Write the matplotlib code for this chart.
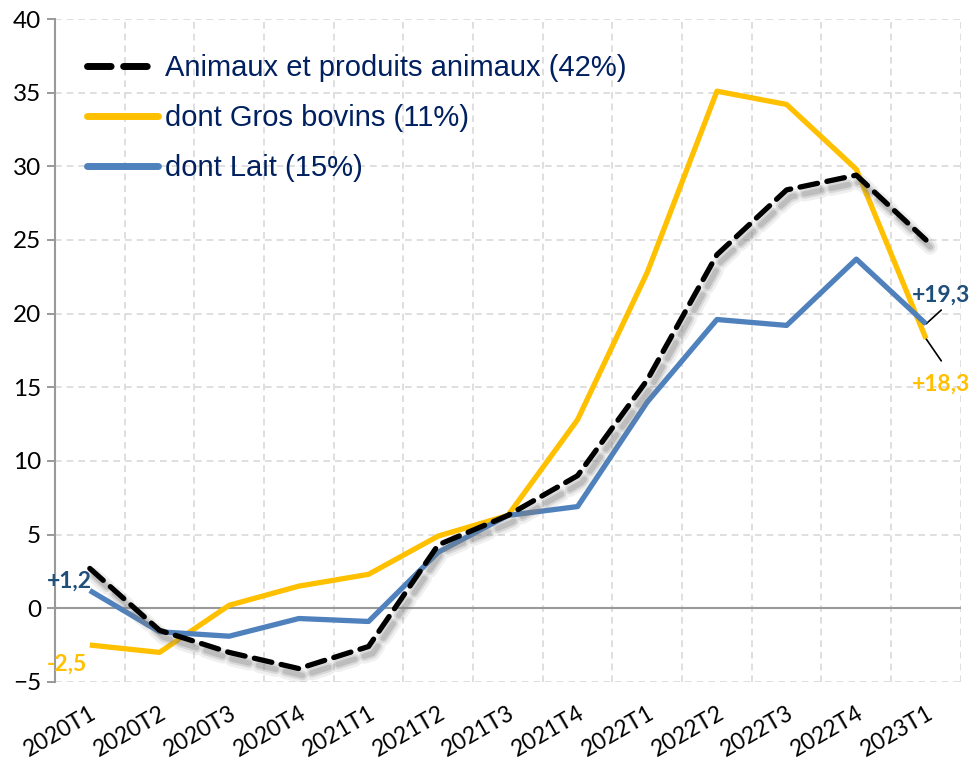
import matplotlib

matplotlib.use("Agg")
import matplotlib.pyplot as plt
import matplotlib.patheffects as pe
import numpy as np

quarters = ["2020T1", "2020T2", "2020T3", "2020T4", "2021T1", "2021T2", "2021T3",
            "2021T4", "2022T1", "2022T2", "2022T3", "2022T4", "2023T1"]
animaux = [2.7, -1.5, -3.0, -4.1, -2.6, 4.3, 6.3, 9.0, 15.5, 24.0, 28.4, 29.4, 25.0]
gros_bovins = [-2.5, -3.0, 0.2, 1.5, 2.3, 4.9, 6.3, 12.8, 22.8, 35.1, 34.2, 29.8, 18.3]
lait = [1.2, -1.6, -1.9, -0.7, -0.9, 3.8, 6.3, 6.9, 14.0, 19.6, 19.2, 23.7, 19.3]

labels = ["Animaux et produits animaux (42%)", "dont Gros bovins (11%)", "dont Lait (15%)"]

YELLOW = "#FFC000"
BLUE = "#4F81BD"
LBL_BLUE = "#1F4E79"
NAVY = "#002060"

fig = plt.figure(figsize=(9.73, 7.61), dpi=100)
ax = fig.add_axes([0.0565, 0.104, 0.931, 0.871])

x = np.arange(len(quarters))

# soft grey shadow under the dashed series
shadow = [
    pe.SimpleLineShadow(offset=(3, -5), shadow_color="gray", alpha=0.12, linewidth=11),
    pe.SimpleLineShadow(offset=(3, -5), shadow_color="gray", alpha=0.2, linewidth=7),
    pe.SimpleLineShadow(offset=(3, -5), shadow_color="gray", alpha=0.3, linewidth=4),
    pe.Normal(),
]
ax.plot(x, animaux, color="black", lw=3.8, ls=(0, (3.4, 1.8)), dash_capstyle="round",
        label=labels[0], path_effects=shadow, zorder=5)
ax.plot(x, gros_bovins, color=YELLOW, lw=3.8, label=labels[1], zorder=4,
        solid_capstyle="butt")
ax.plot(x, lait, color=BLUE, lw=3.8, label=labels[2], zorder=4,
        solid_capstyle="butt")

ax.set_xlim(-0.5, len(quarters) - 0.5)
ax.set_ylim(-5, 40)
ax.set_yticks(np.arange(-5, 41, 5))
ax.set_xticks(x)
ax.set_xticklabels(quarters, rotation=30, ha="right", rotation_mode="anchor",
                   fontsize=16.5, family="Lato")
ax.tick_params(axis="x", length=0, pad=15)
ax.tick_params(axis="y", length=6, width=1.2, color="#888888", labelsize=17.5, pad=4)
for t in ax.get_yticklabels():
    t.set_family("Lato")

# gridlines: horizontal at y ticks, vertical at category boundaries
for yv in np.arange(-5, 41, 5):
    if yv != 0:
        ax.axhline(yv, color="#D9D9D9", lw=1.2, ls=(0, (4, 3)), zorder=0)
for xv in np.arange(0.5, len(quarters), 1.0):
    ax.axvline(xv, color="#D9D9D9", lw=1.2, ls=(0, (4, 3)), zorder=0)
ax.axhline(0, color="#999999", lw=1.5, zorder=1)

for s in ["top", "right", "bottom"]:
    ax.spines[s].set_visible(False)
ax.spines["left"].set_color("#999999")
ax.spines["left"].set_linewidth(1.5)

# data labels
lbl_font = dict(family="Lato", fontweight="bold", fontsize=16.5)
ax.annotate("+1,2", xy=(x[0], lait[0]), xytext=(-31, 7), textcoords="offset points",
            color=LBL_BLUE, ha="left", va="center", **lbl_font)
ax.annotate("-2,5", xy=(x[0], gros_bovins[0]), xytext=(-31, -14), textcoords="offset points",
            color=YELLOW, ha="left", va="center", **lbl_font)
ax.annotate("+19,3", xy=(x[-1], lait[-1]), xytext=(-10, 21), textcoords="offset points",
            color=LBL_BLUE, ha="left", va="center", **lbl_font)
ax.annotate("+18,3", xy=(x[-1], gros_bovins[-1]), xytext=(-10, -33), textcoords="offset points",
            color=YELLOW, ha="left", va="center", **lbl_font)
# leader lines
ax.annotate("", xy=(x[-1], lait[-1]), xytext=(11, 10), textcoords="offset points",
            arrowprops=dict(arrowstyle="-", color="black", lw=1.2, shrinkA=0, shrinkB=0))
ax.annotate("", xy=(x[-1], gros_bovins[-1]), xytext=(11, -16), textcoords="offset points",
            arrowprops=dict(arrowstyle="-", color="black", lw=1.2, shrinkA=0, shrinkB=0))

leg = ax.legend(loc="upper left", bbox_to_anchor=(0.035, 0.947), frameon=False,
                prop=dict(family="Liberation Sans", size=21), handlelength=2.45,
                handletextpad=0.22, labelspacing=0.75, borderaxespad=0.0, borderpad=0.0)
for t in leg.get_texts():
    t.set_color(NAVY)
for h in leg.get_lines():
    h.set_linewidth(5)
    h.set_solid_capstyle("round")
    h.set_path_effects([])

fig.savefig("out.png", dpi=100)
